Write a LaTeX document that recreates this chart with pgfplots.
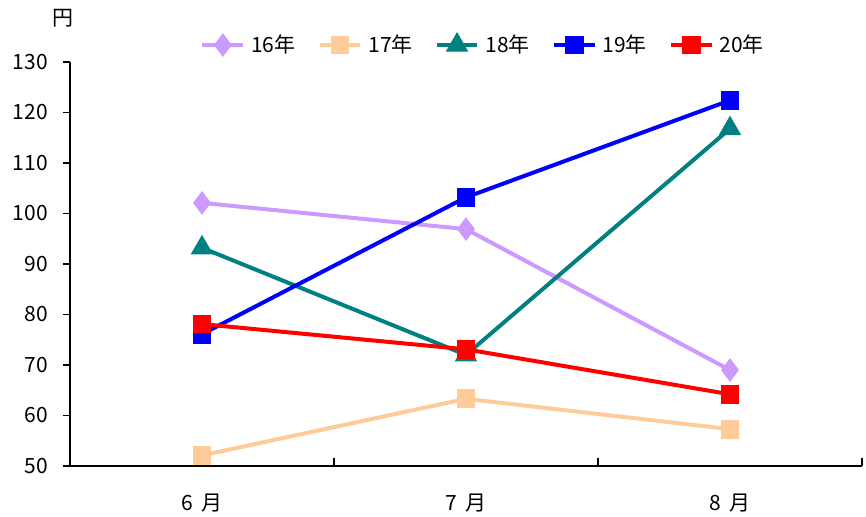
\documentclass[border=0pt]{standalone}
\usepackage{fontspec}
\setmainfont{Noto Sans CJK JP}
\usepackage{pgfplots}
\pgfplotsset{compat=1.18}
\definecolor{c16}{RGB}{204,153,255}
\definecolor{c17}{RGB}{255,204,153}
\definecolor{c18}{RGB}{0,128,128}
\definecolor{c19}{RGB}{0,0,255}
\definecolor{c20}{RGB}{255,0,0}
\begin{document}
\begin{tikzpicture}
\begin{axis}[name=ax,
  scale only axis, width=396bp, height=202bp,
  xmin=-0.5, xmax=2.5, ymin=50, ymax=130,
  axis x line*=bottom, axis y line*=left,
  axis line style={line width=0.6pt, -},
  xtick={0,1,2}, xticklabels={6\hspace{4bp}月,7\hspace{4bp}月,8\hspace{4bp}月},
  x tick label style={yshift=-7bp},
  major x tick style={draw=none},
  extra x ticks={0.5,1.5,2.5}, extra x tick labels={},
  extra x tick style={tick align=inside, major tick length=4bp, major x tick style={draw=black, line width=0.6pt}},
  ytick={50,60,...,130},
  tick align=outside, major tick length=3.5bp,
  major y tick style={line width=0.6pt, black},
  y tick label style={xshift=-4bp},
  tick label style={font=\fontsize{10.5bp}{12bp}\selectfont},
  /pgf/number format/assume math mode=true,
  legend columns=5,
  legend style={draw=none, fill=none, at={(rel axis cs:0.523,1.042)}, anchor=center,
    font=\fontsize{10.5bp}{12bp}\selectfont, column sep=1bp,
    /tikz/every even column/.append style={column sep=9bp}},
  legend image code/.code={\draw[#1, mark repeat=2, mark phase=2] plot coordinates {(0cm,0cm) (0.36cm,0cm) (0.72cm,0cm)};},
  every axis plot/.append style={line width=2bp},
  clip=false,
]
\addplot[c16, mark=diamond*, mark size=4.3bp, mark options={fill=c16}] coordinates {(0,102.1) (1,96.9) (2,69.0)};
\addlegendentry{16年}
\addplot[c17, mark=square*, mark size=3.7bp, mark options={fill=c17}] coordinates {(0,52.1) (1,63.3) (2,57.3)};
\addlegendentry{17年}
\addplot[c18, mark=triangle*, mark size=4.5bp, mark options={fill=c18}] coordinates {(0,93.2) (1,72.0) (2,116.8)};
\addlegendentry{18年}
\addplot[c19, mark=square*, mark size=3.7bp, mark options={fill=c19}] coordinates {(0,76.1) (1,103.2) (2,122.4)};
\addlegendentry{19年}
\addplot[c20, mark=square*, mark size=3.7bp, mark options={fill=c20}] coordinates {(0,78.1) (1,73.1) (2,64.2)};
\addlegendentry{20年}
\node[font=\fontsize{10.5bp}{12bp}\selectfont] at (rel axis cs:-0.009,1.109) {円};
\end{axis}
\pgfresetboundingbox
\useasboundingbox ([xshift=-35bp,yshift=-25.5bp]ax.south west) rectangle ([xshift=2bp,yshift=31bp]ax.north east);
\end{tikzpicture}
\end{document}
